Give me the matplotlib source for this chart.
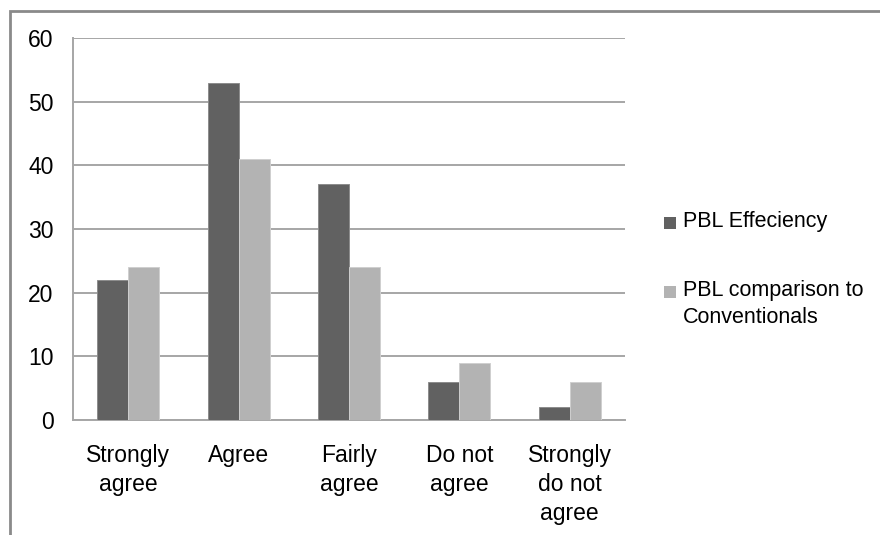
import matplotlib.pyplot as plt
import matplotlib.patches as mpatches
import numpy as np

categories = ["Strongly\nagree", "Agree", "Fairly\nagree", "Do not\nagree", "Strongly\ndo not\nagree"]
efficiency = [22, 53, 37, 6, 2]
comparison = [24, 41, 24, 9, 6]
series_names = ["PBL Effeciency", "PBL comparison to\nConventionals"]
colors = ["#616161", "#b3b3b3"]

plt.rcParams['font.family'] = ['Liberation Sans', 'DejaVu Sans']
fs = 16.5
fs_leg = 15.5

W, H = 880, 535
fig = plt.figure(figsize=(W / 100, H / 100), dpi=100)

# outer chart frame (only top and left visible in the crop)
fig.patches.append(mpatches.Rectangle((10 / W, -0.1), 2, 1.1 - 11 / H,
                                      transform=fig.transFigure, fill=False,
                                      edgecolor="#8a8a8a", linewidth=2))

ax = fig.add_axes([73 / W, (H - 420) / H, 552 / W, 382 / H])

x = np.arange(len(categories))
w = 0.28
ax.bar(x - w / 2, efficiency, w, color=colors[0], edgecolor="#8c8c8c", linewidth=0.7, zorder=3)
ax.bar(x + w / 2, comparison, w, color=colors[1], edgecolor="#cfcfcf", linewidth=0.7, zorder=3)

ax.set_xlim(-0.5, len(categories) - 0.5)
ax.set_ylim(0, 60)
ax.set_yticks(range(0, 61, 10))
ax.yaxis.grid(True, color="#a6a6a6", linewidth=1.4, zorder=0)
ax.set_xticks(x)
ax.set_xticklabels(categories, fontsize=fs, linespacing=1.35, va="top")
ax.tick_params(axis="x", length=0, pad=17)
ax.tick_params(axis="y", length=0, pad=14, labelsize=fs)

for side in ["top", "right"]:
    ax.spines[side].set_visible(False)
for side in ["left", "bottom"]:
    ax.spines[side].set_color("#a6a6a6")
    ax.spines[side].set_linewidth(1.4)

# legend (Excel style: square marker aligned with first text line)
leg_y = [223, 292]
for col, name, yy in zip(colors, series_names, leg_y):
    fig.patches.append(mpatches.Rectangle((664 / W, (H - yy - 6) / H), 12 / W, 12 / H,
                                          transform=fig.transFigure, facecolor=col,
                                          edgecolor="none"))
    fig.text(683 / W, (H - yy + 12) / H, name, fontsize=fs_leg, va="top", ha="left",
             linespacing=1.4)

fig.savefig("out.png", dpi=100)
